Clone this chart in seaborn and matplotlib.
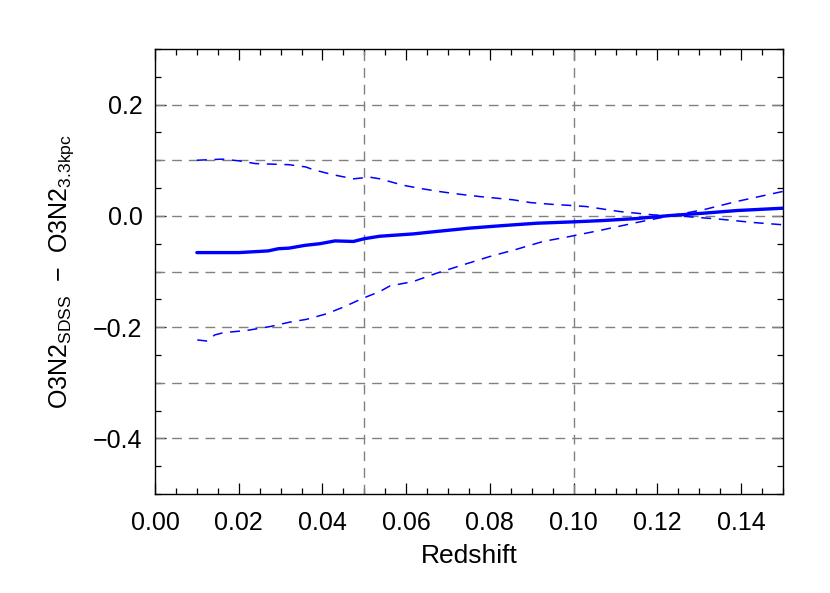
import numpy as np
import pandas as pd
import matplotlib
matplotlib.use("Agg")
import matplotlib.pyplot as plt
import seaborn as sns
from matplotlib.ticker import MultipleLocator, FuncFormatter

# ---- data ----
z_median = [0.010, 0.020, 0.027, 0.0295, 0.032, 0.0358, 0.0394, 0.043, 0.0474, 0.050,
            0.0537, 0.0617, 0.0673, 0.0752, 0.0832, 0.0912, 0.0998, 0.107, 0.115,
            0.123, 0.131, 0.139, 0.150]
d_median = [-0.066, -0.066, -0.063, -0.059, -0.058, -0.053, -0.050, -0.045, -0.046, -0.041,
            -0.0366, -0.0324, -0.028, -0.022, -0.0174, -0.0132, -0.0108, -0.0084, -0.0048,
            0.0006, 0.0048, 0.0096, 0.0138]

z_upper = [0.010, 0.016, 0.020, 0.024, 0.032, 0.036, 0.0378, 0.0425, 0.0474, 0.0513,
           0.0537, 0.0593, 0.064, 0.068, 0.072, 0.0776, 0.0816, 0.0856, 0.0896, 0.0943,
           0.0998, 0.103, 0.111, 0.119, 0.127, 0.135, 0.143, 0.150]
d_upper = [0.100, 0.102, 0.099, 0.094, 0.092, 0.088, 0.083, 0.074, 0.0666, 0.0696,
           0.0666, 0.055, 0.0485, 0.0437, 0.0396, 0.0347, 0.0318, 0.0288, 0.024, 0.021,
           0.0185, 0.0168, 0.0078, 0.0018, -0.0012, -0.006, -0.012, -0.016]

z_lower = [0.0101, 0.0123, 0.0143, 0.0163, 0.0219, 0.0275, 0.0322, 0.0362, 0.041, 0.045,
           0.0497, 0.0537, 0.0561, 0.0617, 0.0673, 0.0736, 0.080, 0.0864, 0.0927, 0.0991,
           0.107, 0.115, 0.123, 0.131, 0.139, 0.150]
d_lower = [-0.223, -0.225, -0.214, -0.210, -0.206, -0.199, -0.191, -0.186, -0.176, -0.164,
           -0.148, -0.136, -0.126, -0.118, -0.103, -0.088, -0.073, -0.060, -0.046, -0.037,
           -0.025, -0.012, 0.000, 0.011, 0.026, 0.044]

grid_y = [0.2, 0.1, 0.0, -0.1, -0.2, -0.3, -0.4]
grid_x = [0.05, 0.10]

x_label = "Redshift"
y_label = "O3N2$_{SDSS}$  \u2212  O3N2$_{3.3kpc}$"

# ---- figure ----
sns.set_theme(style="white")
plt.rcParams["font.family"] = ["Liberation Sans", "DejaVu Sans"]
plt.rcParams["mathtext.fontset"] = "custom"
plt.rcParams["mathtext.rm"] = "Liberation Sans"
plt.rcParams["mathtext.it"] = "Liberation Sans"
plt.rcParams["mathtext.default"] = "regular"
plt.rcParams["text.color"] = "black"
plt.rcParams["axes.labelcolor"] = "black"
plt.rcParams["xtick.color"] = "black"
plt.rcParams["ytick.color"] = "black"

fig = plt.figure(figsize=(8.30, 5.93), dpi=100)
ax = fig.add_axes([155/830, 1 - 494/593, (783 - 155)/830, (494 - 49)/593])

grid_kw = dict(color="#808080", lw=1.0, linestyle=(0, (7, 5)), zorder=1)
for gy in grid_y:
    ax.axhline(gy, **grid_kw)
for gx in grid_x:
    ax.axvline(gx, **grid_kw)

blue = "#0000ff"
sns.lineplot(x=z_median, y=d_median, ax=ax, color=blue, lw=2.4, sort=False,
             estimator=None, zorder=3)
sns.lineplot(x=z_upper, y=d_upper, ax=ax, color=blue, lw=1.1, sort=False,
             estimator=None, linestyle=(0, (6.5, 5)), zorder=3)
sns.lineplot(x=z_lower, y=d_lower, ax=ax, color=blue, lw=1.1, sort=False,
             estimator=None, linestyle=(0, (6.5, 5)), zorder=3)

ax.set_xlim(0.0, 0.15)
ax.set_ylim(-0.5, 0.3)
ax.xaxis.set_major_locator(MultipleLocator(0.02))
ax.xaxis.set_minor_locator(MultipleLocator(0.005))
ax.yaxis.set_major_locator(MultipleLocator(0.2))
ax.yaxis.set_minor_locator(MultipleLocator(0.05))
ax.xaxis.set_major_formatter(FuncFormatter(lambda v, p: f"{v:.2f}".replace("-", "\u2212")))
ax.yaxis.set_major_formatter(FuncFormatter(
    lambda v, p: ("%.1f" % (0.0 if abs(v) < 1e-9 else v)).replace("-", "\u2212")))

ax.tick_params(which="both", direction="in", top=True, right=True,
               bottom=True, left=True, color="black", labelcolor="black", width=0.9)
ax.tick_params(which="major", length=8, labelsize=18)
ax.tick_params(which="minor", length=4.5)
ax.tick_params(axis="x", which="major", pad=12)
ax.tick_params(axis="y", which="major", pad=9)
for s in ax.spines.values():
    s.set_color("black")
    s.set_linewidth(1.0)

ax.set_xlabel(x_label, fontsize=19, labelpad=7, color="black")
ax.set_ylabel(y_label, fontsize=18, labelpad=12, color="black")

fig.savefig("out.png", dpi=100, facecolor="white")
